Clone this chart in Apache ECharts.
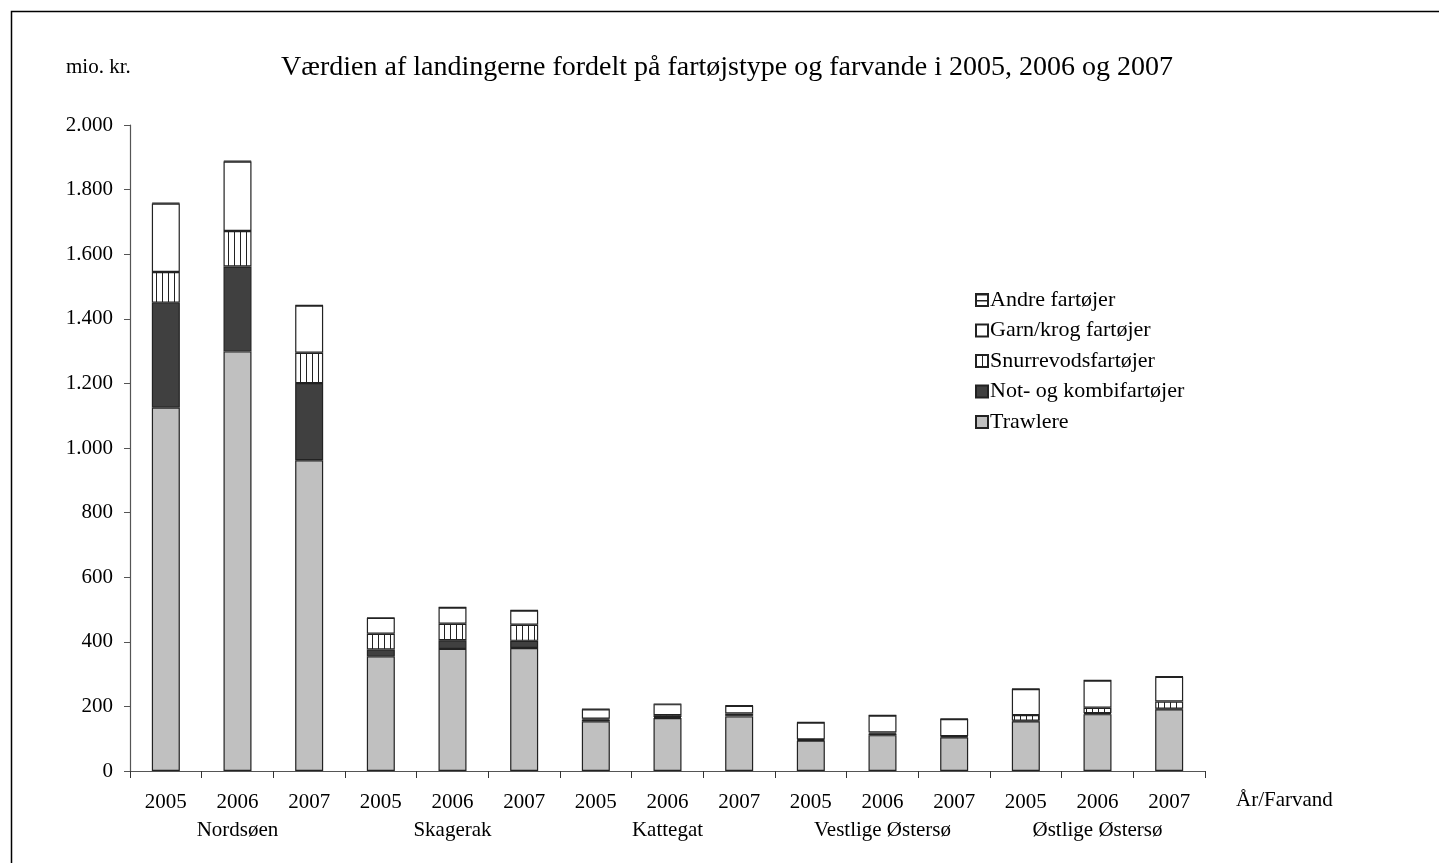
<!DOCTYPE html>
<html lang="da">
  <head>
    <meta charset="UTF-8">
    <title>Værdien af landingerne</title>
    <script src="https://cdn.jsdelivr.net/npm/echarts@6/dist/echarts.min.js"></script>
    <style>
      html, body { margin: 0; padding: 0; background: #fff; }
    </style>
  </head>
  <body>
    <div id="main" style="width: 1439px;height:863px;"></div>
    <script type="text/javascript">
      // data (mio. kr.)
      var years = ['2005', '2006', '2007'];
      var regions = ['Nordsøen', 'Skagerak', 'Kattegat', 'Vestlige Østersø', 'Østlige Østersø'];
      var trawlere = [1125, 1299, 962, 355, 378, 381, 154, 164, 169, 94, 111, 104, 154, 176, 191];
      var notKombi = [325, 263, 239, 21, 27, 22, 5, 3, 4, 2, 5, 2, 2, 3, 2];
      var snurrevods = [95, 110, 94, 49, 51, 50, 3, 6, 5, 2, 3, 2, 17, 17, 22];
      var garnKrog = [212, 215, 146, 49, 50, 44, 29, 34, 24, 52, 53, 53, 81, 84, 77];
      var andre = [2, 2, 1, 1, 1, 1, 1, 1, 1, 1, 1, 1, 1, 1, 1];
      var yTicks = [0, 200, 400, 600, 800, 1000, 1200, 1400, 1600, 1800, 2000];

      var categories = [];
      regions.forEach(function (r) {
        years.forEach(function (y) { categories.push(y); });
      });

      function stripes(vertical) {
        var c = document.createElement('canvas');
        c.width = 6; c.height = 6;
        var ctx = c.getContext('2d');
        ctx.fillStyle = '#fff';
        ctx.fillRect(0, 0, 6, 6);
        ctx.fillStyle = '#222';
        if (vertical) ctx.fillRect(0, 0, 1, 6);
        else ctx.fillRect(0, 0, 6, 1.5);
        return { image: c, repeat: 'repeat' };
      }

      var font = '"Liberation Serif", "Times New Roman", serif';
      var border = { borderColor: '#222', borderWidth: 1.2 };

      function series(name, data, color) {
        return {
          name: name,
          type: 'bar',
          stack: 'total',
          barWidth: 28,
          data: data,
          itemStyle: Object.assign({ color: color }, border),
          emphasis: { disabled: true }
        };
      }

      var chart = echarts.init(document.getElementById('main'));
      chart.setOption({
        animation: false,
        backgroundColor: '#fff',
        textStyle: { fontFamily: font, color: '#000' },
        graphic: [
          { type: 'rect', shape: { x: 11.5, y: 11.5, width: 1460, height: 900 },
            style: { fill: 'none', stroke: '#000', lineWidth: 1.5 }, silent: true },
          { type: 'text', left: 66, top: 57,
            style: { text: 'mio. kr.', font: '21px ' + font, fill: '#000' } },
          { type: 'text', left: 1236, top: 790,
            style: { text: 'År/Farvand', font: '21px ' + font, fill: '#000' } }
        ],
        title: {
          text: 'Værdien af landingerne fordelt på fartøjstype og farvande i 2005, 2006 og 2007',
          left: 722,
          textAlign: 'center',
          top: 49,
          textStyle: { fontFamily: font, fontWeight: 'normal', fontSize: 28, color: '#000' }
        },
        legend: {
          orient: 'vertical',
          left: 970,
          top: 284,
          itemGap: 8.5,
          itemWidth: 12,
          itemHeight: 12,
          icon: 'rect',
          selectedMode: false,
          data: ['Andre fartøjer', 'Garn/krog fartøjer', 'Snurrevodsfartøjer', 'Not- og kombifartøjer', 'Trawlere'],
          textStyle: { fontFamily: font, fontSize: 22, lineHeight: 22, color: '#000', padding: [0, 0, 0, -3] }
        },
        grid: { left: 130, right: 234, top: 125, bottom: 92, containLabel: false },
        xAxis: {
          type: 'category',
          data: categories,
          axisLine: { lineStyle: { color: '#555', width: 1.2 } },
          axisTick: { show: true, inside: false, length: 7, alignWithLabel: false, lineStyle: { color: '#333' } },
          axisLabel: {
            interval: 0,
            margin: 17,
            fontSize: 21,
            lineHeight: 28,
            color: '#000',
            fontFamily: font,
            formatter: function (value, idx) {
              var region = (idx % 3 === 1) ? regions[Math.floor(idx / 3)] : ' ';
              return value + '\n' + region;
            }
          }
        },
        yAxis: {
          type: 'value',
          min: yTicks[0],
          max: yTicks[yTicks.length - 1],
          interval: 200,
          splitLine: { show: false },
          axisLine: { show: true, lineStyle: { color: '#555', width: 1.2 } },
          axisTick: { show: true, length: 6, lineStyle: { color: '#555' } },
          axisLabel: {
            margin: 17,
            fontSize: 21,
            color: '#000',
            fontFamily: font,
            formatter: function (v) {
              return String(v).replace(/\B(?=(\d{3})+(?!\d))/g, '.');
            }
          }
        },
        series: [
          series('Trawlere', trawlere, '#c0c0c0'),
          series('Not- og kombifartøjer', notKombi, '#404040'),
          series('Snurrevodsfartøjer', snurrevods, stripes(true)),
          series('Garn/krog fartøjer', garnKrog, '#ffffff'),
          series('Andre fartøjer', andre, stripes(false))
        ]
      });
    </script>
  </body>
</html>
